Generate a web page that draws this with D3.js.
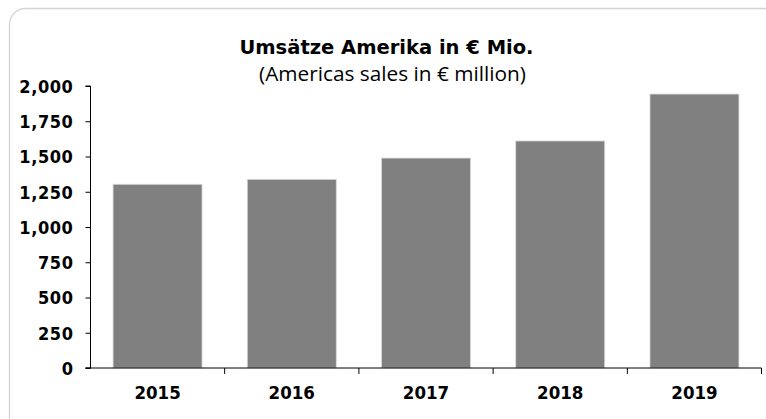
<!DOCTYPE html>
<html>
<head>
<meta charset="utf-8">
<script src="https://cdn.jsdelivr.net/npm/d3@7"></script>
<style>
  html, body { margin: 0; padding: 0; background: #fff; }
  svg { display: block; }
</style>
</head>
<body>
<svg id="chart" width="766" height="419"></svg>
<script>
const categories = ["2015", "2016", "2017", "2018", "2019"];
const sales = [1303, 1338, 1489, 1610, 1943];
const yTicks = [0, 250, 500, 750, 1000, 1250, 1500, 1750, 2000];
const titleMain = "Umsätze Amerika in € Mio.";
const titleSub = "(Americas sales in € million)";

(function () {
const svg = d3.select("#chart");
const mLeft = 90.5, mRight = 761.5, mTop = 86, mBottom = 368;
const condFont = "'DejaVu Sans Condensed', 'DejaVu Sans', Verdana, sans-serif";

// outer rounded frame
svg.append("rect")
  .attr("x", 9.5).attr("y", 8.5)
  .attr("width", 780).attr("height", 440)
  .attr("rx", 16).attr("ry", 16)
  .attr("fill", "#fff")
  .attr("stroke", "#d4d4d4")
  .attr("stroke-width", 1.3);

const x = d3.scaleBand().domain(categories).range([mLeft, mRight])
  .paddingInner(0.337).paddingOuter(0.168);
const y = d3.scaleLinear().domain([0, 2000]).range([mBottom, mTop]);

// bars
svg.append("g").selectAll("rect").data(sales).join("rect")
  .attr("x", (d, i) => x(categories[i]))
  .attr("y", d => y(d))
  .attr("width", x.bandwidth())
  .attr("height", d => y(0) - y(d))
  .attr("fill", "#808080")
  .attr("stroke", "#d9d9d9")
  .attr("stroke-width", 0.8);

// y axis
const yAxis = d3.axisLeft(y).tickValues(yTicks).tickSize(5).tickPadding(12)
  .tickFormat(d3.format(","));
const gy = svg.append("g").attr("transform", `translate(${mLeft},0)`).call(yAxis);
gy.select(".domain").attr("stroke", "#000").attr("d", `M-5,${mBottom}H0V${mTop}H-5`);
gy.selectAll(".tick line").attr("stroke", "#000");
gy.selectAll(".tick text")
  .attr("font-family", condFont)
  .attr("font-weight", "bold")
  .attr("font-size", 18)
  .attr("letter-spacing", 0.6)
  .attr("fill", "#000")
  .attr("dy", "0.36em");

// x axis with category-boundary ticks
const gx = svg.append("g").attr("transform", `translate(0,${mBottom})`);
gx.append("line").attr("x1", mLeft - 5).attr("x2", mRight).attr("y1", 0).attr("y2", 0)
  .attr("stroke", "#000");
const boundaries = categories.map((c) => x(c) - x.step() * x.paddingInner() / 2).concat([mRight]);
gx.selectAll("line.b").data(boundaries.slice(1)).join("line")
  .attr("class", "b")
  .attr("x1", d => d).attr("x2", d => d).attr("y1", 0).attr("y2", 6)
  .attr("stroke", "#000");
const gxAxis = d3.axisBottom(x).tickSize(0).tickPadding(18);
const gxl = svg.append("g").attr("transform", `translate(0,${mBottom})`).call(gxAxis);
gxl.select(".domain").remove();
gxl.selectAll(".tick text")
  .attr("font-family", condFont)
  .attr("font-weight", "bold")
  .attr("font-size", 18.5)
  .attr("fill", "#000");

// titles
svg.append("text")
  .attr("x", 386.5).attr("y", 54)
  .attr("text-anchor", "middle")
  .attr("font-family", "DejaVu Sans, Verdana, sans-serif")
  .attr("font-weight", "bold")
  .attr("font-size", 19.5)
  .attr("fill", "#000")
  .text(titleMain);
svg.append("text")
  .attr("x", 392.5).attr("y", 81)
  .attr("text-anchor", "middle")
  .attr("font-family", "Open Sans, sans-serif")
  .attr("font-size", 20.8)
  .attr("fill", "#000")
  .text(titleSub);
})();
</script>
</body>
</html>
